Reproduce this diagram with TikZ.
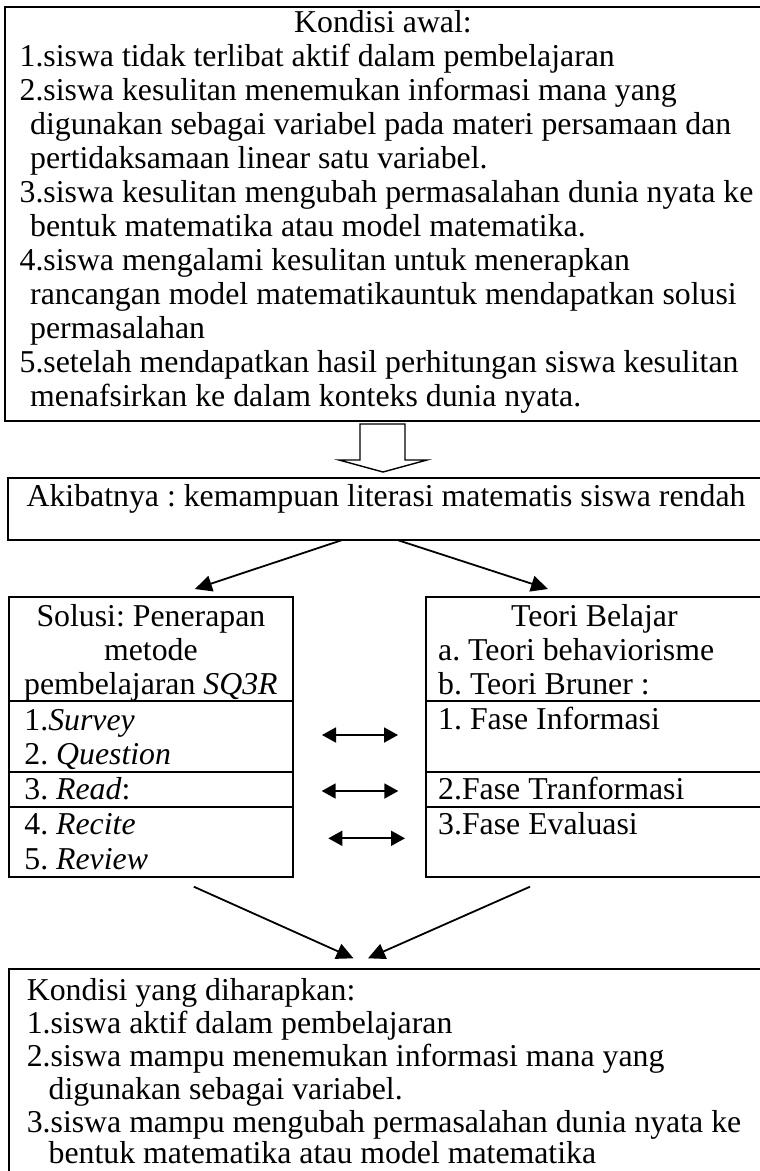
\documentclass[tikz,border=0pt]{standalone}
\usepackage{fontspec}
\setmainfont{Liberation Serif}
\usetikzlibrary{arrows.meta,calc}
\newcommand\bodyfont{\frenchspacing\fontsize{31.8}{34}\selectfont}
\begin{document}
\begin{tikzpicture}[x=1pt,y=-1pt,
  box/.style={draw,line width=2pt,inner sep=0pt,outer sep=0pt,anchor=north west},
  txt/.style={anchor=base west,inner sep=0pt,font=\bodyfont},
  ctr/.style={anchor=base,inner sep=0pt,font=\bodyfont},
  divider/.style={line width=2pt},
  conn/.style={line width=1.8pt,-{Triangle[length=17pt,width=16pt]}},
  dbl/.style={line width=1.8pt,{Triangle[length=14pt,width=15pt]}-{Triangle[length=14pt,width=15pt]}},
  fat/.style={draw,line width=1.4pt,line join=miter}
]
\useasboundingbox (0,0) rectangle (760,1171);
\clip (0,0) rectangle (760,1171);

% ---------- boxes ----------
\node[box,minimum width=758.3pt,minimum height=414pt] (top) at (4.7,6.7) {};
\node[box,minimum width=754.7pt,minimum height=62.3pt] (akb) at (8.3,477.7) {};
\node[box,minimum width=284.3pt,minimum height=279.7pt] (sol) at (8.7,597) {};
\node[box,minimum width=337.3pt,minimum height=279.7pt] (th) at (425.7,597) {};
\node[box,minimum width=760pt,minimum height=230pt] (bot) at (8.7,969.3) {};

% dividers
\foreach \yy in {700.7,771.7,806.7}{
  \draw[divider] (sol.west |- 0,\yy) -- (sol.east |- 0,\yy);
  \draw[divider] (th.west |- 0,\yy) -- (th.east |- 0,\yy);
}

% ---------- top box text ----------
\node[ctr] (t0) at (383,32) {Kondisi awal:};
\node[txt] (t1) at (19.4,66) {1.siswa tidak terlibat aktif dalam pembelajaran};
\node[txt] (t2) at (19.4,100) {2.siswa kesulitan menemukan informasi mana yang};
\node[txt] (t3) at (30,134) {digunakan sebagai variabel pada materi persamaan dan};
\node[txt] (t4) at (30,168) {pertidaksamaan linear satu variabel.};
\node[txt] (t5) at (19.4,202) {3.siswa kesulitan mengubah permasalahan dunia nyata ke};
\node[txt] (t6) at (30,236) {bentuk matematika atau model matematika.};
\node[txt] (t7) at (19.4,270) {4.siswa mengalami kesulitan untuk menerapkan};
\node[txt] (t8) at (30,304) {rancangan model matematikauntuk mendapatkan solusi};
\node[txt] (t9) at (30,338) {permasalahan};
\node[txt] (t10) at (19.4,372) {5.setelah mendapatkan hasil perhitungan siswa kesulitan};
\node[txt] (t11) at (30,406) {menafsirkan ke dalam konteks dunia nyata.};

% ---------- fat arrow ----------
\draw[fat] (360,424) -- (405,424) -- (405,460) -- (427,460) -- (383,472) -- (339,460) -- (360,460) -- cycle;

% ---------- akibatnya ----------
\node[ctr] (a0) at (386,506) {Akibatnya : kemampuan literasi matematis siswa rendah};

% ---------- left box ----------
\node[ctr] (s0) at (150.9,626) {Solusi: Penerapan};
\node[ctr] (s1) at (150.9,660.5) {metode};
\node[ctr] (s2) at (150.9,694) {pembelajaran \textit{SQ3R}};
\node[txt] (s3) at (24.2,730) {1.\textit{Survey}};
\node[txt] (s4) at (24.2,764) {2. \textit{Question}};
\node[txt] (s5) at (24.2,799) {3. \textit{Read}:};
\node[txt] (s6) at (24.2,834) {4. \textit{Recite}};
\node[txt] (s7) at (24.2,869) {5. \textit{Review}};

% ---------- right box ----------
\node[ctr] (r0) at (594.4,626) {Teori Belajar};
\node[txt] (r1) at (438,660.5) {a. Teori behaviorisme};
\node[txt] (r2) at (438,694) {b. Teori Bruner :};
\node[txt] (r3) at (438,729) {1. Fase Informasi};
\node[txt] (r4) at (438,799) {2.Fase Tranformasi};
\node[txt] (r5) at (438,834) {3.Fase Evaluasi};

% ---------- bottom box ----------
\node[txt] (b0) at (26.6,1000) {Kondisi yang diharapkan:};
\node[txt] (b1) at (26.6,1033) {1.siswa aktif dalam pembelajaran};
\node[txt] (b2) at (26.6,1066) {2.siswa mampu menemukan informasi mana yang};
\node[txt] (b3) at (48.4,1099) {digunakan sebagai variabel.};
\node[txt] (b4) at (26.6,1132) {3.siswa mampu mengubah permasalahan dunia nyata ke};
\node[txt] (b5) at (48.4,1163) {bentuk matematika atau model matematika};

% ---------- connectors ----------
\draw[conn] ([xshift=-43.3pt]akb.south) -- ([xshift=44pt,yshift=8pt]sol.north);
\draw[conn] ([xshift=11.7pt]akb.south) -- ([xshift=-46.3pt,yshift=8pt]th.north);

\coordinate (d1a) at (322,735);   \coordinate (d1b) at (398,735);
\coordinate (d2a) at (321.7,791); \coordinate (d2b) at (398.3,791);
\coordinate (d3a) at (328.3,838.3); \coordinate (d3b) at (405,838.3);
\draw[dbl] (d1a) -- (d1b);
\draw[dbl] (d2a) -- (d2b);
\draw[dbl] (d3a) -- (d3b);

\draw[conn] ([xshift=43pt,yshift=-10pt]sol.south) -- ([xshift=-35.2pt,yshift=11pt]bot.north);
\draw[conn] ([xshift=-64.35pt,yshift=-10pt]th.south) -- ([xshift=-20.7pt,yshift=11pt]bot.north);
\end{tikzpicture}
\end{document}
